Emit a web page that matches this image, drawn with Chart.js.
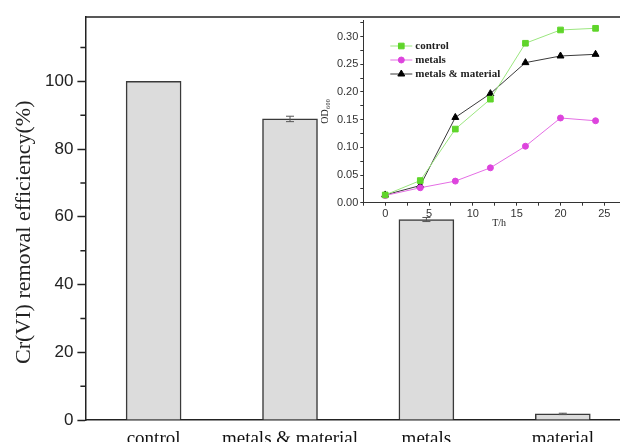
<!DOCTYPE html>
<html>
<head>
<meta charset="utf-8">
<script src="https://cdn.jsdelivr.net/npm/chart.js@4.4.0/dist/chart.umd.min.js"></script>
<style>
  html, body { margin: 0; padding: 0; background: #fff; overflow: hidden; }
  #wrap { position: relative; width: 620px; height: 442px; overflow: hidden; }
  #main { position: absolute; left: 0; top: 0; }
  #inset { position: absolute; left: 300px; top: 10px; }
</style>
</head>
<body>
<div id="wrap">
  <canvas id="main" width="632" height="442"></canvas>
  <canvas id="inset" width="340" height="225"></canvas>
</div>
<script>
// bar chart: Cr(VI) removal
const groups = ['control', 'metals & material', 'metals', 'material'];
const removal = [100, 88.9, 59.2, 1.8];
const removalErr = [0, 0.8, 0.6, 0.2];

// inset: growth curves
const hours = [0, 4, 8, 12, 16, 20, 24];
const odControl = [0.014, 0.040, 0.133, 0.187, 0.288, 0.312, 0.315];
const odMetals = [0.013, 0.027, 0.039, 0.063, 0.102, 0.153, 0.148];
const odMetalsMaterial = [0.014, 0.031, 0.154, 0.197, 0.253, 0.265, 0.268];

const AXIS = '#222';

// error bars, minor ticks and top frame for the bar chart
const mainExtras = {
  id: 'mainExtras',
  afterDatasetsDraw(chart) {
    const { ctx, scales: { y } } = chart;
    const meta = chart.getDatasetMeta(0);
    ctx.save();
    ctx.strokeStyle = '#555';
    ctx.lineWidth = 1;
    meta.data.forEach((bar, i) => {
      const e = removalErr[i];
      if (!e) return;
      const top = y.getPixelForValue(removal[i] + e);
      const bot = y.getPixelForValue(removal[i] - e);
      ctx.beginPath();
      ctx.moveTo(bar.x, top); ctx.lineTo(bar.x, bot);
      ctx.moveTo(bar.x - 4, top); ctx.lineTo(bar.x + 4, top);
      ctx.moveTo(bar.x - 4, bot); ctx.lineTo(bar.x + 4, bot);
      ctx.stroke();
    });
    ctx.restore();
  },
  afterDraw(chart) {
    const { ctx, chartArea, scales: { y } } = chart;
    ctx.save();
    ctx.strokeStyle = AXIS;
    ctx.lineWidth = 1.5;
    ctx.beginPath();
    ctx.moveTo(chartArea.left, chartArea.top);
    ctx.lineTo(chartArea.right, chartArea.top);
    for (let v = 10; v < y.max; v += 20) {
      const py = y.getPixelForValue(v);
      ctx.moveTo(chartArea.left, py);
      ctx.lineTo(chartArea.left - 5, py);
    }
    ctx.stroke();
    ctx.restore();
  }
};

new Chart(document.getElementById('main'), {
  type: 'bar',
  data: {
    labels: groups,
    datasets: [{
      data: removal,
      backgroundColor: '#dcdcdc',
      borderColor: '#3a3a3a',
      borderWidth: 1.5,
      barThickness: 55,
    }],
  },
  options: {
    responsive: false,
    animation: false,
    layout: { padding: { top: 17, right: 1, left: 0, bottom: 0 } },
    plugins: { legend: { display: false }, tooltip: { enabled: false } },
    scales: {
      x: {
        offset: true,
        grid: { display: false, drawTicks: false },
        border: { display: true, color: AXIS, width: 1.5 },
        ticks: {
          color: '#111',
          padding: 8,
          maxRotation: 0,
          autoSkip: false,
          font: { family: '"Liberation Serif", "Times New Roman", serif', size: 19 },
        },
        afterFit(scale) { scale.height = 22; },
      },
      y: {
        min: 0,
        max: 119,
        grid: { drawOnChartArea: false, drawTicks: true, tickLength: 8, tickColor: AXIS, tickWidth: 1.5 },
        border: { display: true, color: AXIS, width: 1.5 },
        ticks: {
          stepSize: 20,
          includeBounds: false,
          padding: 4,
          color: '#222',
          font: { family: '"Liberation Sans", Arial, sans-serif', size: 17 },
        },
        title: {
          display: true,
          // trailing spaces nudge the rotated title a little lower, as in the original
          text: 'Cr(VI) removal efficiency(%)\u00a0\u00a0\u00a0\u00a0\u00a0',
          color: '#222',
          padding: { top: 11, bottom: 0 },
          font: { family: '"Liberation Serif", "Times New Roman", serif', size: 22 },
        },
        afterFit(scale) { scale.width = 85.4; },
      },
    },
  },
  plugins: [mainExtras],
});

// legend drawn inside the inset plot area
const insetLegend = {
  id: 'insetLegend',
  afterDraw(chart) {
    const { ctx, chartArea } = chart;
    const x0 = chartArea.left + 27;
    const y0 = chartArea.top + 26;
    chart.data.datasets.forEach((ds, i) => {
      const yy = y0 + i * 14;
      ctx.save();
      ctx.strokeStyle = ds.borderColor;
      ctx.lineWidth = 1;
      ctx.beginPath();
      ctx.moveTo(x0, yy);
      ctx.lineTo(x0 + 22, yy);
      ctx.stroke();
      ctx.fillStyle = ds.pointBackgroundColor;
      ctx.strokeStyle = ds.pointBorderColor;
      ctx.lineWidth = 1;
      Chart.helpers.drawPoint(ctx, { pointStyle: ds.pointStyle, radius: ds.pointRadius, rotation: 0, borderWidth: 1 }, x0 + 11, yy);
      ctx.fillStyle = '#222';
      ctx.font = 'bold 11px "Liberation Serif", serif';
      ctx.textBaseline = 'middle';
      ctx.fillText(ds.label, x0 + 25, yy);
      ctx.restore();
    });
  }
};

const pts = vals => hours.map((h, i) => ({ x: h, y: vals[i] }));
const isStep = (v, s) => Math.abs(v / s - Math.round(v / s)) < 1e-6;

new Chart(document.getElementById('inset'), {
  type: 'line',
  data: {
    datasets: [
      {
        label: 'control',
        data: pts(odControl),
        borderColor: '#9be67f',
        borderWidth: 1,
        pointStyle: 'rect',
        pointRadius: 4,
        pointBackgroundColor: '#5fd52a',
        pointBorderColor: '#5fd52a',
      },
      {
        label: 'metals',
        data: pts(odMetals),
        borderColor: '#e46ee4',
        borderWidth: 1,
        pointStyle: 'circle',
        pointRadius: 3,
        pointBackgroundColor: '#dd44dd',
        pointBorderColor: '#dd44dd',
      },
      {
        label: 'metals & material',
        data: pts(odMetalsMaterial),
        borderColor: '#3a3a3a',
        borderWidth: 1,
        pointStyle: 'triangle',
        pointRadius: 4,
        pointBackgroundColor: '#000',
        pointBorderColor: '#000',
      },
    ],
  },
  options: {
    responsive: false,
    animation: false,
    layout: { padding: { top: 10, right: 0, left: 0, bottom: 0 } },
    plugins: { legend: { display: false }, tooltip: { enabled: false } },
    scales: {
      x: {
        type: 'linear',
        min: -2.5,
        max: 28.5,
        grid: { drawOnChartArea: false, drawTicks: true, tickLength: 3, tickColor: '#333' },
        border: { display: true, color: '#333', width: 1 },
        ticks: {
          stepSize: 2.5,
          includeBounds: false,
          padding: 2,
          color: '#333',
          maxRotation: 0,
          autoSkip: false,
          font: { family: '"Liberation Sans", Arial, sans-serif', size: 11 },
          callback: v => (isStep(v, 5) && v >= 0 && v <= 25 ? String(Math.round(v)) : ''),
        },
        title: {
          display: true,
          text: 'T/h',
          color: '#222',
          padding: { top: 0, bottom: 6 },
          font: { family: '"Liberation Serif", serif', size: 10 },
        },
        afterFit(scale) { scale.height = 32.3; },
      },
      y: {
        min: 0,
        max: 0.33,
        grid: { drawOnChartArea: false, drawTicks: true, tickLength: 3, tickColor: '#333' },
        border: { display: true, color: '#333', width: 1 },
        ticks: {
          stepSize: 0.025,
          includeBounds: false,
          padding: 2,
          color: '#333',
          autoSkip: false,
          font: { family: '"Liberation Sans", Arial, sans-serif', size: 11 },
          callback: v => (isStep(v, 0.05) ? v.toFixed(2) : ''),
        },
        title: {
          display: true,
          text: 'OD₆₀₀',
          color: '#222',
          padding: { top: 19, bottom: 0 },
          font: { family: '"Liberation Serif", "DejaVu Serif", serif', size: 10 },
        },
        afterFit(scale) { scale.width = 63.3; },
      },
    },
  },
  plugins: [insetLegend],
});
</script>
</body>
</html>
